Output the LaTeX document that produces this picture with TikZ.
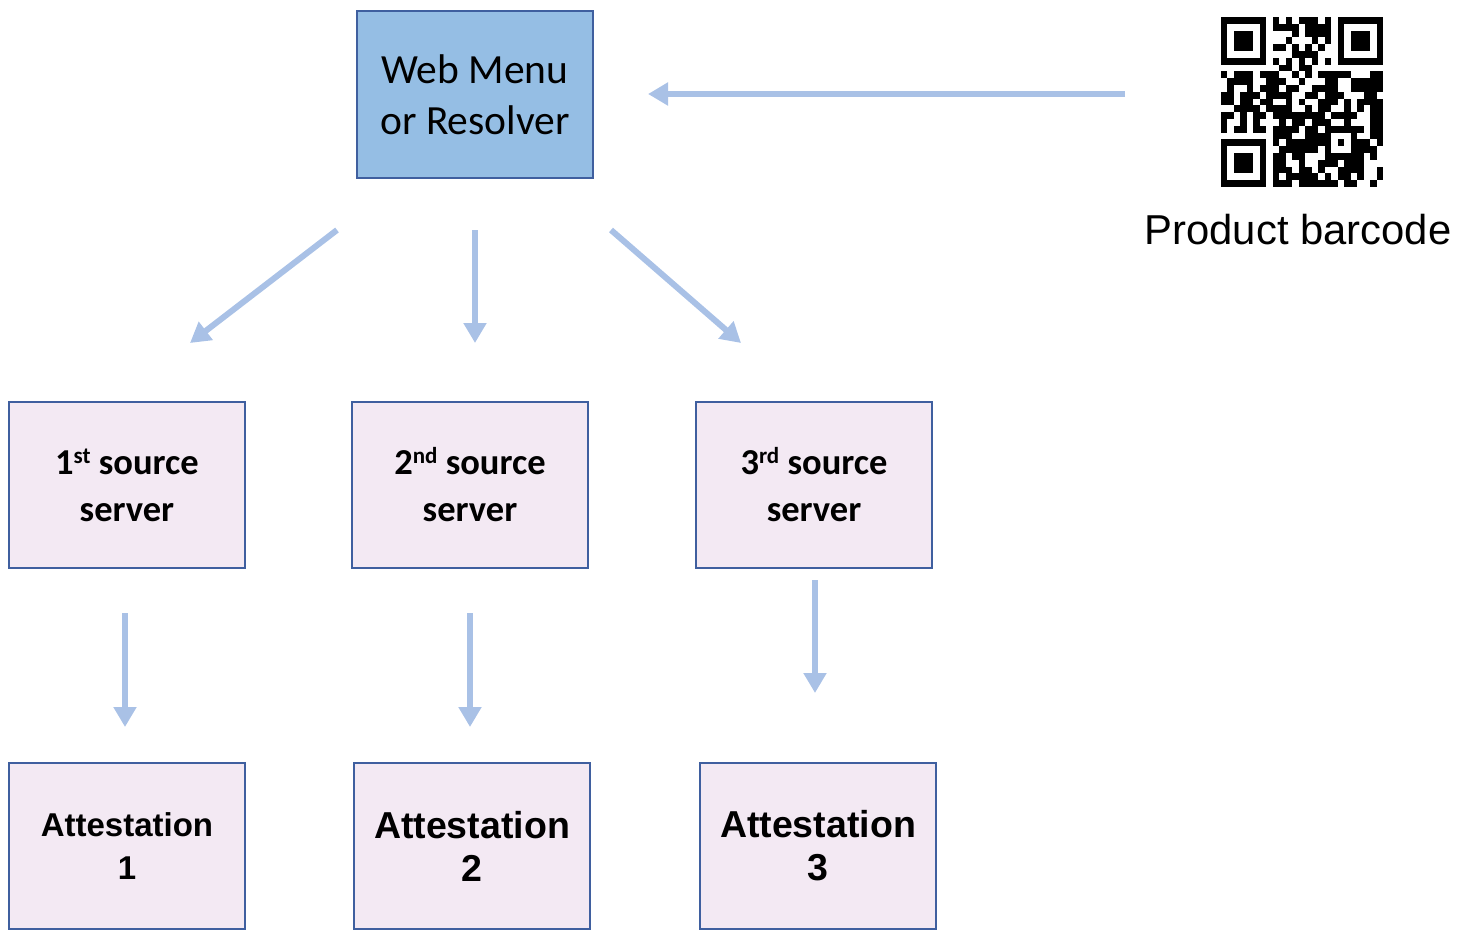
\documentclass[tikz,border=0pt]{standalone}
\usepackage{fontspec}
\usetikzlibrary{arrows.meta}
\newfontfamily\calib{Carlito}
\newfontfamily\arialf{Liberation Sans}
\definecolor{menublue}{HTML}{95BEE4}
\definecolor{boxedge}{HTML}{3F5F9F}
\definecolor{lavender}{HTML}{F3E9F3}
\definecolor{flowblue}{HTML}{A9C1E6}
\tikzset{
  menubox/.style={draw=boxedge, line width=2pt, fill=menublue, minimum width=236pt, minimum height=167pt, align=center, inner sep=0pt},
  srcbox/.style={draw=boxedge, line width=2pt, fill=lavender, minimum width=236pt, minimum height=166pt, align=center, inner sep=0pt},
  flow/.style={draw=flowblue, line width=6pt, -{Triangle[length=20pt,width=22pt]}},
}
\newcommand{\ordsup}[1]{\raisebox{0.62ex}{\fontsize{23}{23}\selectfont #1}}
\begin{document}
\begin{tikzpicture}[x=1pt,y=-1pt]
\useasboundingbox (0,0) rectangle (1460,937);

% resolver box
\node[menubox, font=\calib\fontsize{41.5}{51}\selectfont] (web) at (475,94.5) {Web Menu\\or Resolver};

% source servers
\node[srcbox, font=\calib\bfseries\fontsize{36.5}{47}\selectfont] (s1) at (127,485) {1\ordsup{st} source\\server};
\node[srcbox, font=\calib\bfseries\fontsize{36.5}{47}\selectfont] (s2) at (470,485) {2\ordsup{nd} source\\server};
\node[srcbox, font=\calib\bfseries\fontsize{36.5}{47}\selectfont] (s3) at (814,485) {3\ordsup{rd} source\\server};

% attestations
\node[srcbox, font=\arialf\bfseries\fontsize{33}{43}\selectfont] (a1) at (127,846) {Attestation\\1};
\node[srcbox, font=\arialf\bfseries\fontsize{37.5}{43}\selectfont] (a2) at (472,846) {Attestation\\2};
\node[srcbox, font=\arialf\bfseries\fontsize{37.5}{43}\selectfont] (a3) at (818,846) {Attestation\\3};

% product barcode (QR symbol, 25 x 25 modules)
\begin{scope}[shift={(1221,17)}, x=6.48pt, y=-6.8pt]
  \coordinate (qr) at (0,0);
  % finder patterns
  \foreach \fx/\fy in {0/0, 18/0, 0/18}{
    \fill[black] (\fx,\fy) rectangle ++(7,7);
    \fill[white] (\fx+1,\fy+1) rectangle ++(5,5);
    \fill[black] (\fx+2,\fy+2) rectangle ++(3,3);
  }
  % alignment pattern
  \fill[black] (16,16) rectangle ++(5,5);
  \fill[white] (17,17) rectangle ++(3,3);
  \fill[black] (18,18) rectangle ++(1,1);
  % timing patterns
  \foreach \k in {8,10,...,16}{
    \fill[black] (\k,6) rectangle ++(1,1);
    \fill[black] (6,\k) rectangle ++(1,1);
  }
  % data modules
  \pgfmathsetseed{2024}
  \foreach \i in {0,...,24}{
    \foreach \j in {0,...,24}{
      \pgfmathtruncatemacro\reserved{((\i<8)&&(\j<8)) || ((\i>16)&&(\j<8)) || ((\i<8)&&(\j>16)) || ((\i>15)&&(\i<21)&&(\j>15)&&(\j<21)) || (\i==6) || (\j==6)}
      \ifnum\reserved=0
        \pgfmathrandominteger{\bit}{0}{9}
        \ifnum\bit<6 \fill[black] (\i,\j) rectangle ++(1,1); \fi
      \fi
    }
  }
\end{scope}
\node[font=\arialf\fontsize{41.8}{48}\selectfont, anchor=base] (label) at (1298,244) {Product barcode};

% connector end points
\coordinate (scanfrom) at (1125,94);
\coordinate (scanto) at (648,94);
\coordinate (f1) at (337,230);  \coordinate (t1) at (190,343);
\coordinate (f2) at (475,230);  \coordinate (t2) at (475,343);
\coordinate (f3) at (611,230);  \coordinate (t3) at (741,343);
\coordinate (g1) at (125,613);  \coordinate (h1) at (125,727);
\coordinate (g2) at (470,613);  \coordinate (h2) at (470,727);
\coordinate (g3) at (815,580);  \coordinate (h3) at (815,693);

% arrows
\draw[flow] (scanfrom) -- (scanto);
\draw[flow] (f1) -- (t1);
\draw[flow] (f2) -- (t2);
\draw[flow] (f3) -- (t3);
\draw[flow] (g1) -- (h1);
\draw[flow] (g2) -- (h2);
\draw[flow] (g3) -- (h3);
\end{tikzpicture}
\end{document}
